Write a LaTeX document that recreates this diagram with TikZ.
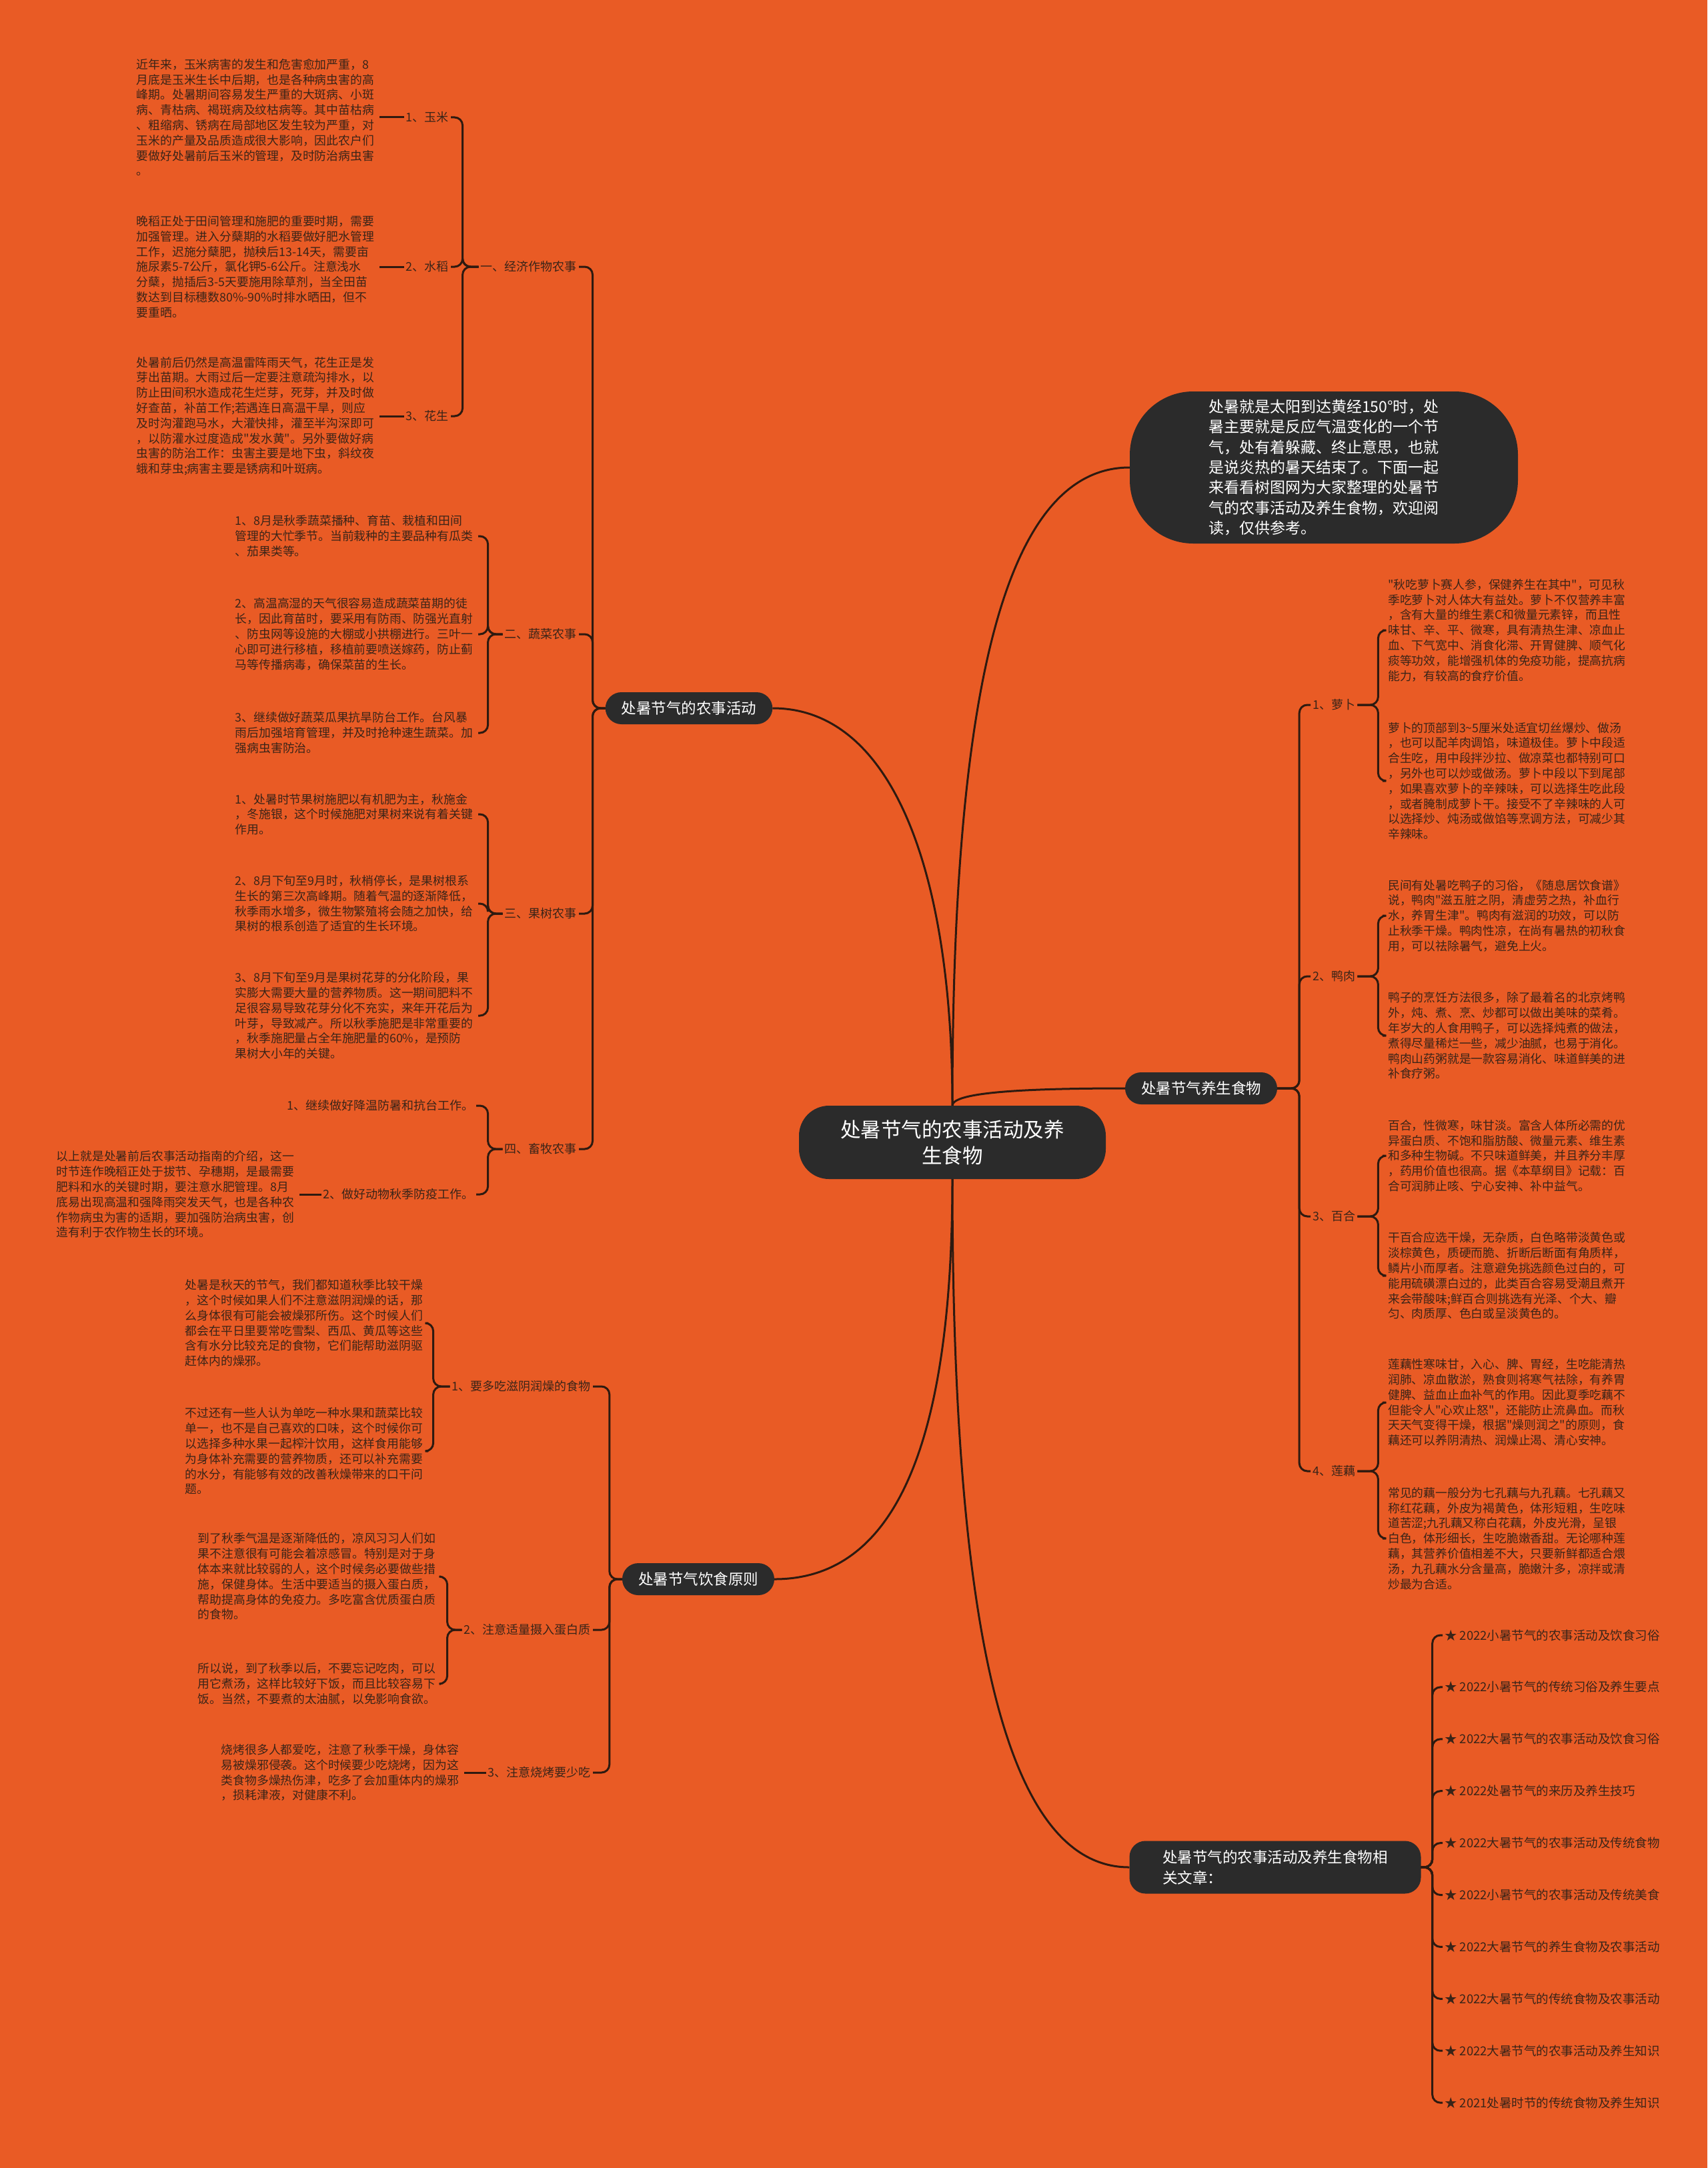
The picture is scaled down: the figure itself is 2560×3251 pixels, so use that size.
\documentclass[tikz,border=0pt]{standalone}
\usepackage{fontspec}
\setmainfont{Noto Sans CJK SC}
\newfontfamily\cjk{Noto Sans CJK SC}
\definecolor{canvas}{HTML}{E95B25}
\definecolor{ink}{HTML}{3A2418}
\definecolor{wire}{HTML}{2E1A10}
\definecolor{bubble}{HTML}{2B2B2B}
\tikzset{
  wire/.style={draw=wire, line width=3pt},
  brace line/.style={wire, rounded corners=12pt},
  topic/.style={fill=bubble, text=white, rounded corners=45pt, minimum width=460pt,
    minimum height=110pt, align=center, font=\cjk\fontsize{30.5}{39}\selectfont},
  lead/.style={fill=bubble, text=white, rounded corners=95pt, minimum width=582pt,
    minimum height=228pt, align=left, font=\cjk\fontsize{23}{30.4}\selectfont},
  branch/.style={fill=bubble, text=white, rounded corners=24pt, minimum height=48pt,
    inner xsep=24pt, align=left, font=\cjk\fontsize{22.5}{31}\selectfont},
  sublabel/.style={text=ink, inner xsep=3pt, inner ysep=2pt, font=\cjk\fontsize{18}{22}\selectfont},
  para/.style={text=ink, align=left, inner xsep=8pt, inner ysep=2pt,
    font=\cjk\fontsize{17.8}{22.8}\selectfont},
  article/.style={text=ink, inner xsep=3pt, font=\cjk\fontsize{18.5}{22}\selectfont}
}

\begin{document}
\begin{tikzpicture}[x=1pt, y=1pt]

  % ---- Canvas ---------------------------------------------------------------
  \fill[canvas] (0,0) rectangle (2560,-3251);
  \useasboundingbox (0,0) rectangle (2560,-3251);

  % ---- Root and first level ---------------------------------------------------
  \node[topic] (root) at (1428,-1713) {处暑节气的农事活动及养\\生食物};
  \node[lead] (intro) at (1985,-701) {处暑就是太阳到达黄经150°时，处\\
    暑主要就是反应气温变化的一个节\\气，处有着躲藏、终止意思，也就\\
    是说炎热的暑天结束了。下面一起\\来看看树图网为大家整理的处暑节\\
    气的农事活动及养生食物，欢迎阅\\读，仅供参考。};
  \node[branch] (farm) at (1033,-1062) {处暑节气的农事活动};
  \node[branch] (food) at (1801,-1632) {处暑节气养生食物};
  \node[branch] (diet) at (1047,-2368) {处暑节气饮食原则};
  \node[branch, minimum width=437pt, inner xsep=40pt, minimum height=79pt] (rel)
    at (1912,-2800) {处暑节气的农事活动及养生食物相\\关文章：};

  \draw[wire] (root.north) .. controls +(0,350) and +(180,0) .. (farm.east);
  \draw[wire] (root.north) .. controls +(0,650) and +(-180,0) .. (intro.west);
  \draw[wire] (root.north) .. controls +(0,20) and +(-150,0) .. (food.west);
  \draw[wire] (root.south) .. controls +(0,-400) and +(180,0) .. (diet.east);
  \draw[wire] (root.south) .. controls +(0,-700) and +(-180,0) .. (rel.west);

  % ---- Farm work: second level ------------------------------------------------
  \node[sublabel, anchor=east] (eco)   at (868,-400)  {一、经济作物农事};
  \node[sublabel, anchor=east] (veg)   at (868,-951)  {二、蔬菜农事};
  \node[sublabel, anchor=east] (fruit) at (868,-1370) {三、果树农事};
  \node[sublabel, anchor=east] (stock) at (868,-1723) {四、畜牧农事};
  \foreach \n in {eco, veg, fruit, stock}
    \draw[brace line] (farm.west) -- ++(-19,0) |- (\n.east);

  % ---- Cash crops -----------------------------------------------------------
  \node[sublabel, anchor=east] (corn)   at (676,-176) {1、玉米};
  \node[sublabel, anchor=east] (rice)   at (676,-400) {2、水稻};
  \node[sublabel, anchor=east] (peanut) at (676,-624) {3、花生};
  \foreach \n in {corn, rice, peanut}
    \draw[brace line] (eco.west) -- ++(-24,0) |- (\n.east);

  \node[para, anchor=east] (cornTxt) at (569,-176) {近年来，玉米病害的发生和危害愈加严重，8\\
    月底是玉米生长中后期，也是各种病虫害的高\\峰期。处暑期间容易发生严重的大斑病、小斑\\
    病、青枯病、褐斑病及纹枯病等。其中苗枯病\\、粗缩病、锈病在局部地区发生较为严重，对\\
    玉米的产量及品质造成很大影响，因此农户们\\要做好处暑前后玉米的管理，及时防治病虫害\\。};
  \node[para, anchor=east] (riceTxt) at (569,-400) {晚稻正处于田间管理和施肥的重要时期，需要\\
    加强管理。进入分蘖期的水稻要做好肥水管理\\工作，迟施分蘖肥，抛秧后13-14天，需要亩\\
    施尿素5-7公斤，氯化钾5-6公斤。注意浅水\\分蘖，抛插后3-5天要施用除草剂，当全田苗\\
    数达到目标穗数80\%-90\%时排水晒田，但不\\要重晒。};
  \node[para, anchor=east] (peanutTxt) at (569,-624) {处暑前后仍然是高温雷阵雨天气，花生正是发\\
    芽出苗期。大雨过后一定要注意疏沟排水，以\\防止田间积水造成花生烂芽，死芽，并及时做\\
    好查苗，补苗工作;若遇连日高温干旱，则应\\及时沟灌跑马水，大灌快排，灌至半沟深即可\\
    ，以防灌水过度造成"发水黄"。另外要做好病\\虫害的防治工作：虫害主要是地下虫，斜纹夜\\
    蛾和芽虫;病害主要是锈病和叶斑病。};
  \draw[wire] (corn.west) -- (cornTxt.east);
  \draw[wire] (rice.west) -- (riceTxt.east);
  \draw[wire] (peanut.west) -- (peanutTxt.east);

  % ---- Vegetables -----------------------------------------------------------
  \node[para, anchor=east] (vegA) at (717,-804) {1、8月是秋季蔬菜播种、育苗、栽植和田间\\
    管理的大忙季节。当前栽种的主要品种有瓜类\\、茄果类等。};
  \node[para, anchor=east] (vegB) at (717,-951) {2、高温高湿的天气很容易造成蔬菜苗期的徒\\
    长，因此育苗时，要采用有防雨、防强光直射\\、防虫网等设施的大棚或小拱棚进行。三叶一\\
    心即可进行移植，移植前要喷送嫁药，防止蓟\\马等传播病毒，确保菜苗的生长。};
  \node[para, anchor=east] (vegC) at (717,-1099) {3、继续做好蔬菜瓜果抗旱防台工作。台风暴\\
    雨后加强培育管理，并及时抢种速生蔬菜。加\\强病虫害防治。};
  \foreach \n in {vegA, vegB, vegC}
    \draw[brace line] (veg.west) -- ++(-22,0) |- (\n.east);

  % ---- Fruit trees ------------------------------------------------------------
  \node[para, anchor=east] (fruitA) at (717,-1221) {1、处暑时节果树施肥以有机肥为主，秋施金\\
    ，冬施银，这个时候施肥对果树来说有着关键\\作用。};
  \node[para, anchor=east] (fruitB) at (717,-1355) {2、8月下旬至9月时，秋梢停长，是果树根系\\
    生长的第三次高峰期。随着气温的逐渐降低，\\秋季雨水增多，微生物繁殖将会随之加快，给\\
    果树的根系创造了适宜的生长环境。};
  \node[para, anchor=east] (fruitC) at (717,-1523) {3、8月下旬至9月是果树花芽的分化阶段，果\\
    实膨大需要大量的营养物质。这一期间肥料不\\足很容易导致花芽分化不充实，来年开花后为\\
    叶芽，导致减产。所以秋季施肥是非常重要的\\，秋季施肥量占全年施肥量的60\%，是预防\\
    果树大小年的关键。};
  \foreach \n in {fruitA, fruitB, fruitC}
    \draw[brace line] (fruit.west) -- ++(-22,0) |- (\n.east);

  % ---- Livestock --------------------------------------------------------------
  \node[sublabel, anchor=east] (stockA) at (714,-1658) {1、继续做好降温防暑和抗台工作。};
  \node[sublabel, anchor=east] (stockB) at (714,-1791) {2、做好动物秋季防疫工作。};
  \foreach \n in {stockA, stockB}
    \draw[brace line] (stock.west) -- ++(-22,0) |- (\n.east);
  \node[para, anchor=east] (stockNote) at (449,-1791) {以上就是处暑前后农事活动指南的介绍，这一\\
    时节连作晚稻正处于拔节、孕穗期，是最需要\\肥料和水的关键时期，要注意水肥管理。8月\\
    底易出现高温和强降雨突发天气，也是各种农\\作物病虫为害的适期，要加强防治病虫害，创\\
    造有利于农作物生长的环境。};
  \draw[wire] (stockB.west) -- (stockNote.east);

  % ---- Healthy food -----------------------------------------------------------
  \node[sublabel, anchor=west] (radish) at (1965,-1057) {1、萝卜};
  \node[sublabel, anchor=west] (duck)   at (1965,-1464) {2、鸭肉};
  \node[sublabel, anchor=west] (lily)   at (1965,-1824) {3、百合};
  \node[sublabel, anchor=west] (lotus)  at (1965,-2206) {4、莲藕};
  \foreach \n in {radish, duck, lily, lotus}
    \draw[brace line] (food.east) -- ++(33,0) |- (\n.west);

  \node[para, anchor=west] (radishA) at (2073,-945) {"秋吃萝卜赛人参，保健养生在其中"，可见秋\\
    季吃萝卜对人体大有益处。萝卜不仅营养丰富\\，含有大量的维生素C和微量元素锌，而且性\\
    味甘、辛、平、微寒，具有清热生津、凉血止\\血、下气宽中、消食化滞、开胃健脾、顺气化\\
    痰等功效，能增强机体的免疫功能，提高抗病\\能力，有较高的食疗价值。};
  \node[para, anchor=west] (radishB) at (2073,-1171) {萝卜的顶部到3\textasciitilde5厘米处适宜切丝爆炒、做汤\\
    ，也可以配羊肉调馅，味道极佳。萝卜中段适\\合生吃，用中段拌沙拉、做凉菜也都特别可口\\
    ，另外也可以炒或做汤。萝卜中段以下到尾部\\，如果喜欢萝卜的辛辣味，可以选择生吃此段\\
    ，或者腌制成萝卜干。接受不了辛辣味的人可\\以选择炒、炖汤或做馅等烹调方法，可减少其\\
    辛辣味。};
  \node[para, anchor=west] (duckA) at (2073,-1373) {民间有处暑吃鸭子的习俗，《随息居饮食谱》\\
    说，鸭肉"滋五脏之阴，清虚劳之热，补血行\\水，养胃生津"。鸭肉有滋润的功效，可以防\\
    止秋季干燥。鸭肉性凉，在尚有暑热的初秋食\\用，可以祛除暑气，避免上火。};
  \node[para, anchor=west] (duckB) at (2073,-1553) {鸭子的烹饪方法很多，除了最着名的北京烤鸭\\
    外，炖、煮、烹、炒都可以做出美味的菜肴。\\年岁大的人食用鸭子，可以选择炖煮的做法，\\
    煮得尽量稀烂一些，减少油腻，也易于消化。\\鸭肉山药粥就是一款容易消化、味道鲜美的进\\
    补食疗粥。};
  \node[para, anchor=west] (lilyA) at (2073,-1733) {百合，性微寒，味甘淡。富含人体所必需的优\\
    异蛋白质、不饱和脂肪酸、微量元素、维生素\\和多种生物碱。不只味道鲜美，并且养分丰厚\\
    ，药用价值也很高。据《本草纲目》记载：百\\合可润肺止咳、宁心安神、补中益气。};
  \node[para, anchor=west] (lilyB) at (2073,-1913) {干百合应选干燥，无杂质，白色略带淡黄色或\\
    淡棕黄色，质硬而脆、折断后断面有角质样，\\鳞片小而厚者。注意避免挑选颜色过白的，可\\
    能用硫磺漂白过的，此类百合容易受潮且煮开\\来会带酸味;鲜百合则挑选有光泽、个大、瓣\\
    匀、肉质厚、色白或呈淡黄色的。};
  \node[para, anchor=west] (lotusA) at (2073,-2103) {莲藕性寒味甘，入心、脾、胃经，生吃能清热\\
    润肺、凉血散淤，熟食则将寒气祛除，有养胃\\健脾、益血止血补气的作用。因此夏季吃藕不\\
    但能令人"心欢止怒"，还能防止流鼻血。而秋\\天天气变得干燥，根据"燥则润之"的原则，食\\
    藕还可以养阴清热、润燥止渴、清心安神。};
  \node[para, anchor=west] (lotusB) at (2073,-2307) {常见的藕一般分为七孔藕与九孔藕。七孔藕又\\
    称红花藕，外皮为褐黄色，体形短粗，生吃味\\道苦涩;九孔藕又称白花藕，外皮光滑，呈银\\
    白色，体形细长，生吃脆嫩香甜。无论哪种莲\\藕，其营养价值相差不大，只要新鲜都适合煨\\
    汤，九孔藕水分含量高，脆嫩汁多，凉拌或清\\炒最为合适。};
  \foreach \p/\c in {radish/radishA, radish/radishB, duck/duckA, duck/duckB,
                     lily/lilyA, lily/lilyB, lotus/lotusA, lotus/lotusB}
    \draw[brace line] (\p.east) -- ++(31,0) |- (\c.west);

  % ---- Diet principles --------------------------------------------------------
  \node[sublabel, anchor=east] (moist)   at (889,-2079) {1、要多吃滋阴润燥的食物};
  \node[sublabel, anchor=east] (protein) at (889,-2444) {2、注意适量摄入蛋白质};
  \node[sublabel, anchor=east] (bbq)     at (889,-2658) {3、注意烧烤要少吃};
  \foreach \n in {moist, protein, bbq}
    \draw[brace line] (diet.west) -- ++(-19,0) |- (\n.east);

  \node[para, anchor=east] (moistA) at (642,-1984) {处暑是秋天的节气，我们都知道秋季比较干燥\\
    ，这个时候如果人们不注意滋阴润燥的话，那\\么身体很有可能会被燥邪所伤。这个时候人们\\
    都会在平日里要常吃雪梨、西瓜、黄瓜等这些\\含有水分比较充足的食物，它们能帮助滋阴驱\\
    赶体内的燥邪。};
  \node[para, anchor=east] (moistB) at (642,-2176) {不过还有一些人认为单吃一种水果和蔬菜比较\\
    单一，也不是自己喜欢的口味，这个时候你可\\以选择多种水果一起榨汁饮用，这样食用能够\\
    为身体补充需要的营养物质，还可以补充需要\\的水分，有能够有效的改善秋燥带来的口干问\\
    题。};
  \foreach \n in {moistA, moistB}
    \draw[brace line] (moist.west) -- ++(-25,0) |- (\n.east);

  \node[para, anchor=east] (proteinA) at (661,-2364) {到了秋季气温是逐渐降低的，凉风习习人们如\\
    果不注意很有可能会着凉感冒。特别是对于身\\体本来就比较弱的人，这个时候务必要做些措\\
    施，保健身体。生活中要适当的摄入蛋白质，\\帮助提高身体的免疫力。多吃富含优质蛋白质\\
    的食物。};
  \node[para, anchor=east] (proteinB) at (661,-2525) {所以说，到了秋季以后，不要忘记吃肉，可以\\
    用它煮汤，这样比较好下饭，而且比较容易下\\饭。当然，不要煮的太油腻，以免影响食欲。};
  \foreach \n in {proteinA, proteinB}
    \draw[brace line] (protein.west) -- ++(-22,0) |- (\n.east);

  \node[para, anchor=east] (bbqTxt) at (696,-2658) {烧烤很多人都爱吃，注意了秋季干燥，身体容\\
    易被燥邪侵袭。这个时候要少吃烧烤，因为这\\类食物多燥热伤津，吃多了会加重体内的燥邪\\
    ，损耗津液，对健康不利。};
  \draw[wire] (bbq.west) -- (bbqTxt.east);

  % ---- Related articles -------------------------------------------------------
  \foreach \t [count=\i from 0] in {2022小暑节气的农事活动及饮食习俗, 2022小暑节气的传统习俗及养生要点,
      2022大暑节气的农事活动及饮食习俗, 2022处暑节气的来历及养生技巧,
      2022大暑节气的农事活动及传统食物, 2022小暑节气的农事活动及传统美食,
      2022大暑节气的养生食物及农事活动, 2022大暑节气的传统食物及农事活动,
      2022大暑节气的农事活动及养生知识, 2021处暑时节的传统食物及养生知识} {
    \node[article, anchor=west] (art\i) at (2163,{-2452-77.9*\i}) {★ \t};
    \draw[brace line] (rel.east) -- ++(17,0) |- (art\i.west);
  }

\end{tikzpicture}
\end{document}
